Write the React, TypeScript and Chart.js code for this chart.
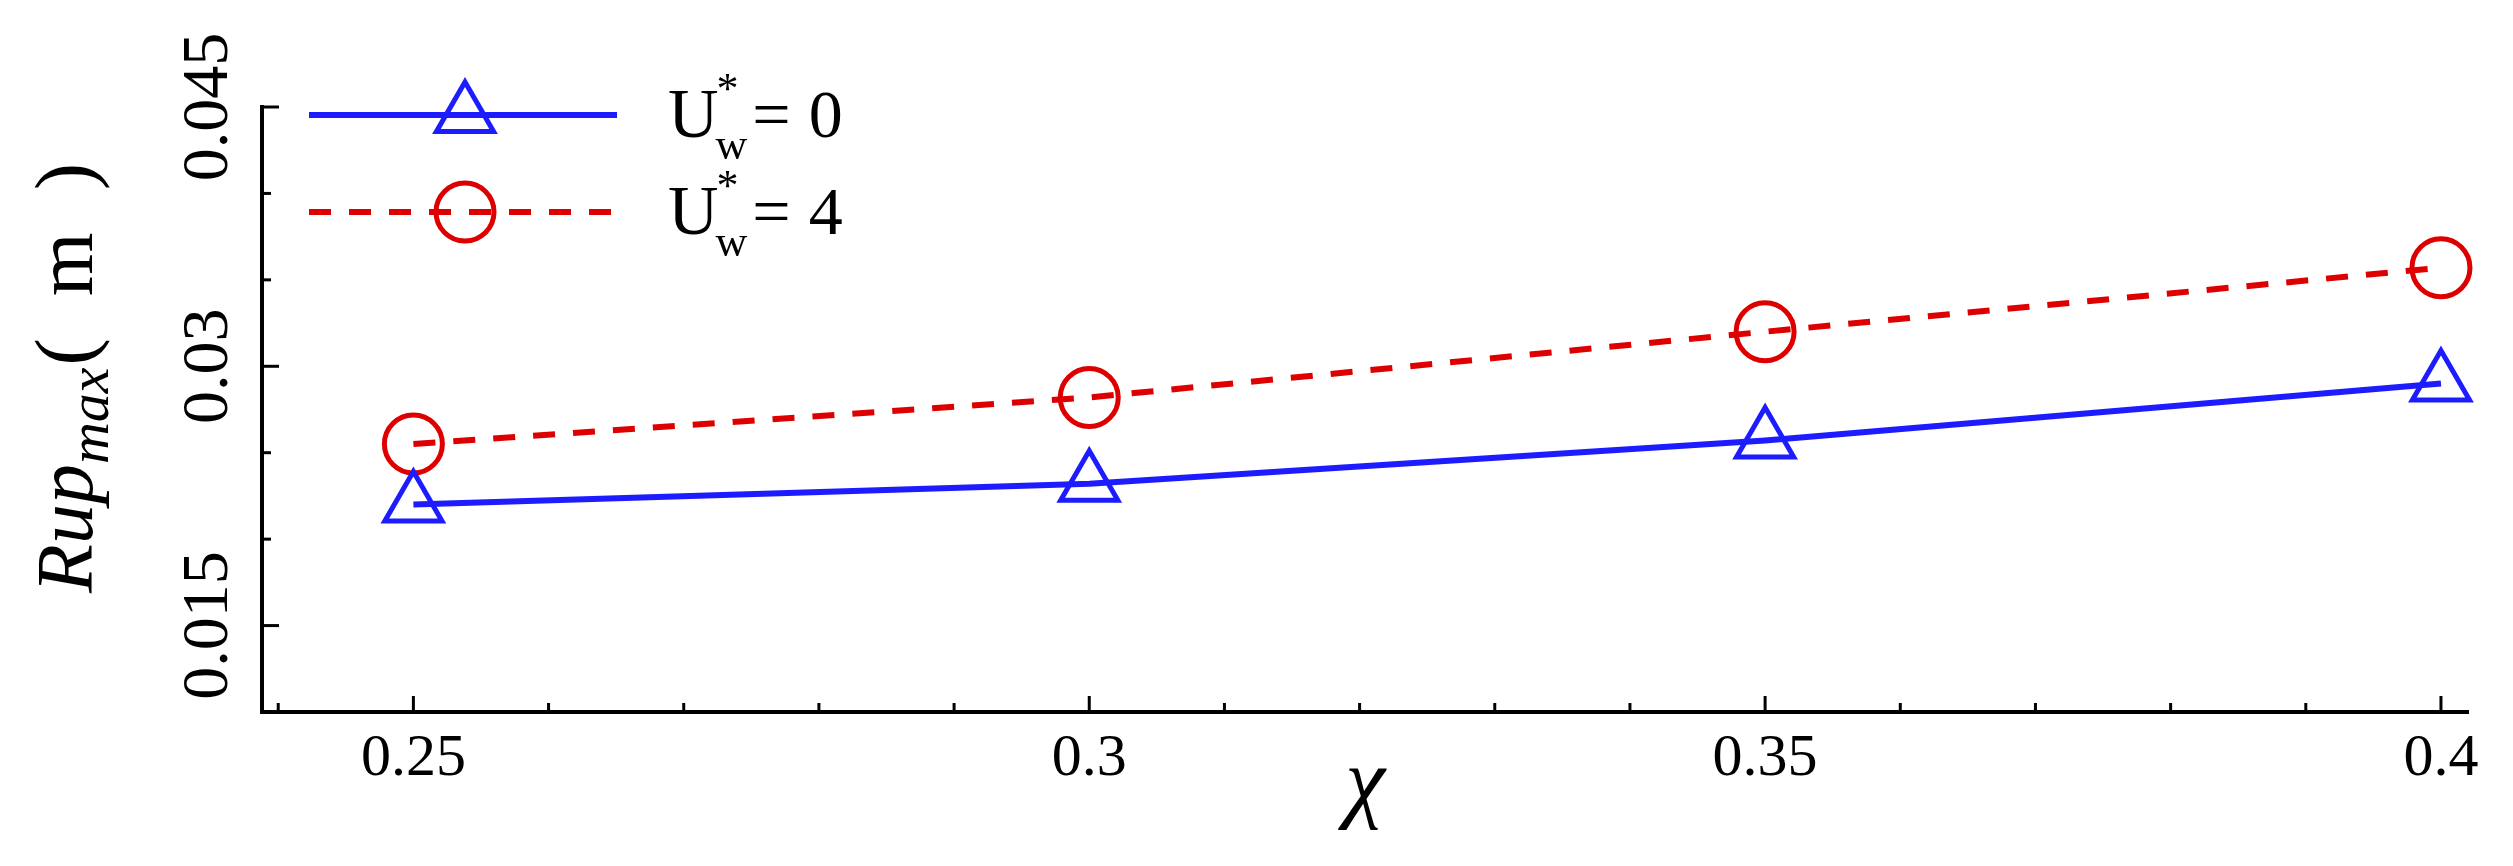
import React, { useEffect, useRef } from 'react';
import { Chart, registerables } from 'chart.js';

Chart.register(...registerables);

// ---- data ----
const chiValues = [0.25, 0.3, 0.35, 0.4];
const rupU0 = [0.022, 0.0232, 0.0257, 0.029];
const rupU4 = [0.0255, 0.0282, 0.032, 0.0357];

const xMajorTicks = [0.25, 0.3, 0.35, 0.4];
const xTickLabels = ['0.25', '0.3', '0.35', '0.4'];
const xMinorTicks = [0.24, 0.26, 0.27, 0.28, 0.29, 0.31, 0.32, 0.33, 0.34, 0.36, 0.37, 0.38, 0.39];
const yMajorTicks = [0.015, 0.03, 0.045];
const yTickLabels = ['0.015', '0.03', '0.045'];
const yMinorTicks = [0.02, 0.025, 0.035, 0.04];

const seriesLabels = ['U*w = 0', 'U*w = 4'];
const legendTails = ['0', '4'];

// ---- styles ----
const FONT = "'Liberation Serif', 'Times New Roman', serif";
const BLUE = 'rgb(28,28,255)';
const RED = 'rgb(222,0,0)';

const near = (a: number, b: number) => Math.abs(a - b) < 1e-9;

function strokeMarker(ctx: CanvasRenderingContext2D, style: string, x: number, y: number, r: number) {
  ctx.beginPath();
  if (style === 'triangle') {
    let rad = 0;
    ctx.moveTo(x + Math.sin(rad) * r, y - Math.cos(rad) * r);
    rad += (2 * Math.PI) / 3;
    ctx.lineTo(x + Math.sin(rad) * r, y - Math.cos(rad) * r);
    rad += (2 * Math.PI) / 3;
    ctx.lineTo(x + Math.sin(rad) * r, y - Math.cos(rad) * r);
    ctx.closePath();
  } else {
    ctx.arc(x, y, r, 0, Math.PI * 2);
  }
  ctx.stroke();
}

const innerTicksPlugin = {
  id: 'innerTicks',
  afterDraw(chart: any) {
    const ctx = chart.ctx;
    const xs = chart.scales.x;
    const ys = chart.scales.y;
    const { left, bottom } = chart.chartArea;
    ctx.save();
    ctx.strokeStyle = '#000';
    ctx.lineWidth = 3;
    xs.ticks.forEach((t: any) => {
      const px = xs.getPixelForValue(t.value);
      const len = xMajorTicks.some((m) => near(m, t.value)) ? 16 : 9;
      ctx.beginPath();
      ctx.moveTo(px, bottom);
      ctx.lineTo(px, bottom - len);
      ctx.stroke();
    });
    ys.ticks.forEach((t: any) => {
      const py = ys.getPixelForValue(t.value);
      const len = yMajorTicks.some((m) => near(m, t.value)) ? 17 : 9;
      ctx.beginPath();
      ctx.moveTo(left, py);
      ctx.lineTo(left + len, py);
      ctx.stroke();
    });
    ctx.restore();
  },
};

const yTitlePlugin = {
  id: 'yTitle',
  afterDraw(chart: any) {
    const ctx = chart.ctx;
    ctx.save();
    ctx.fillStyle = '#000';
    ctx.textBaseline = 'alphabetic';
    ctx.textAlign = 'left';
    const fMain = `italic 80px ${FONT}`;
    const fSub = `italic 58px ${FONT}`;
    const fParen = `82px ${FONT}`;
    const pieces: [string, string, number, number][] = [
      ['Rup', fMain, 0, 0],
      ['max', fSub, 16, 2],
      ['(', fParen, 0, 42],
      ['m', fParen, 0, 42],
      [')', fParen, 0, 0],
    ];
    const widths = pieces.map(([t, f]) => {
      ctx.font = f;
      return ctx.measureText(t).width;
    });
    const total = widths.reduce((a, b, i) => a + b + pieces[i][3], 0);
    ctx.translate(92, 378);
    ctx.rotate(-Math.PI / 2);
    let x = -total / 2;
    pieces.forEach(([t, f, dy, gap], i) => {
      ctx.font = f;
      ctx.fillText(t, x, dy);
      x += widths[i] + gap;
    });
    ctx.restore();
  },
};

const legendPlugin = {
  id: 'richLegend',
  afterDraw(chart: any) {
    const ctx = chart.ctx;
    const rows = [115, 212];
    ctx.save();
    chart.data.datasets.forEach((ds: any, i: number) => {
      const y = rows[i];
      ctx.strokeStyle = ds.borderColor;
      ctx.lineWidth = ds.borderWidth;
      ctx.setLineDash(ds.borderDash || []);
      ctx.beginPath();
      ctx.moveTo(309, y);
      ctx.lineTo(617, y);
      ctx.stroke();
      ctx.setLineDash([]);
      ctx.lineWidth = ds.pointBorderWidth;
      strokeMarker(ctx, ds.pointStyle, 465, y, ds.pointRadius);

      ctx.fillStyle = '#000';
      ctx.textAlign = 'left';
      ctx.textBaseline = 'alphabetic';
      let tx = 668;
      ctx.font = `70px ${FONT}`;
      ctx.fillText('U', tx, y + 22);
      tx += ctx.measureText('U').width;
      ctx.font = `44px ${FONT}`;
      ctx.fillText('*', tx - 2, y - 12);
      ctx.fillText('w', tx - 3, y + 44);
      tx += ctx.measureText('w').width + 2;
      ctx.font = `68px ${FONT}`;
      ctx.fillText('=', tx, y + 22);
      tx += ctx.measureText('=').width + 18;
      ctx.fillText(legendTails[i], tx, y + 22);
    });
    ctx.restore();
  },
};

export default function App() {
  const ref = useRef<HTMLCanvasElement>(null);

  useEffect(() => {
    if (!ref.current) return;
    const chart = new Chart(ref.current, {
      type: 'line',
      data: {
        datasets: [
          {
            label: seriesLabels[0],
            data: chiValues.map((x, i) => ({ x, y: rupU0[i] })),
            borderColor: BLUE,
            borderWidth: 6,
            pointStyle: 'triangle',
            pointRadius: 33,
            pointBorderWidth: 5,
            pointBorderColor: BLUE,
            pointBackgroundColor: 'rgba(0,0,0,0)',
            fill: false,
            tension: 0,
            clip: false,
          } as any,
          {
            label: seriesLabels[1],
            data: chiValues.map((x, i) => ({ x, y: rupU4[i] })),
            borderColor: RED,
            borderWidth: 6,
            borderDash: [22, 18],
            pointStyle: 'circle',
            pointRadius: 29,
            pointBorderWidth: 5,
            pointBorderColor: RED,
            pointBackgroundColor: 'rgba(0,0,0,0)',
            fill: false,
            tension: 0,
            clip: false,
          } as any,
        ],
      },
      options: {
        responsive: false,
        animation: false,
        devicePixelRatio: 1,
        layout: { padding: { top: 107, right: 45, left: 0, bottom: 0 } },
        plugins: {
          legend: { display: false },
          tooltip: { enabled: false },
        },
        scales: {
          x: {
            type: 'linear',
            min: 0.2388,
            max: 0.402,
            afterBuildTicks: (s: any) => {
              s.ticks = [...xMajorTicks, ...xMinorTicks].sort((a, b) => a - b).map((v) => ({ value: v }));
            },
            afterFit: (s: any) => {
              s.height = 154;
            },
            grid: { display: true, drawOnChartArea: false, drawTicks: false },
            border: { display: true, color: '#000', width: 4 },
            ticks: {
              autoSkip: false,
              minRotation: 0,
              maxRotation: 0,
              padding: 11,
              color: '#000',
              font: { family: FONT, size: 60 },
              callback: (v: any) => {
                const i = xMajorTicks.findIndex((m) => near(m, Number(v)));
                return i >= 0 ? xTickLabels[i] : '';
              },
            },
            title: {
              display: true,
              text: 'χ',
              color: '#000',
              font: { family: FONT, size: 90, style: 'italic' },
              padding: { top: 0, bottom: 25 },
            },
          },
          y: {
            type: 'linear',
            min: 0.01,
            max: 0.045,
            afterBuildTicks: (s: any) => {
              s.ticks = [...yMajorTicks, ...yMinorTicks].sort((a, b) => a - b).map((v) => ({ value: v }));
            },
            afterFit: (s: any) => {
              s.width = 262;
            },
            grid: { display: true, drawOnChartArea: false, drawTicks: false },
            border: { display: true, color: '#000', width: 4 },
            ticks: {
              autoSkip: false,
              minRotation: 90,
              maxRotation: 90,
              crossAlign: 'center',
              padding: -22,
              color: '#000',
              font: { family: FONT, size: 66 },
              callback: (v: any) => {
                const i = yMajorTicks.findIndex((m) => near(m, Number(v)));
                return i >= 0 ? yTickLabels[i] : '';
              },
            },
          },
        },
      },
      plugins: [innerTicksPlugin, yTitlePlugin, legendPlugin],
    } as any);
    return () => chart.destroy();
  }, []);

  return (
    <div style={{ position: 'fixed', left: 0, top: 0, width: 2513, height: 866, background: '#fff' }}>
      <canvas ref={ref} width={2513} height={866} style={{ display: 'block' }} />
    </div>
  );
}
